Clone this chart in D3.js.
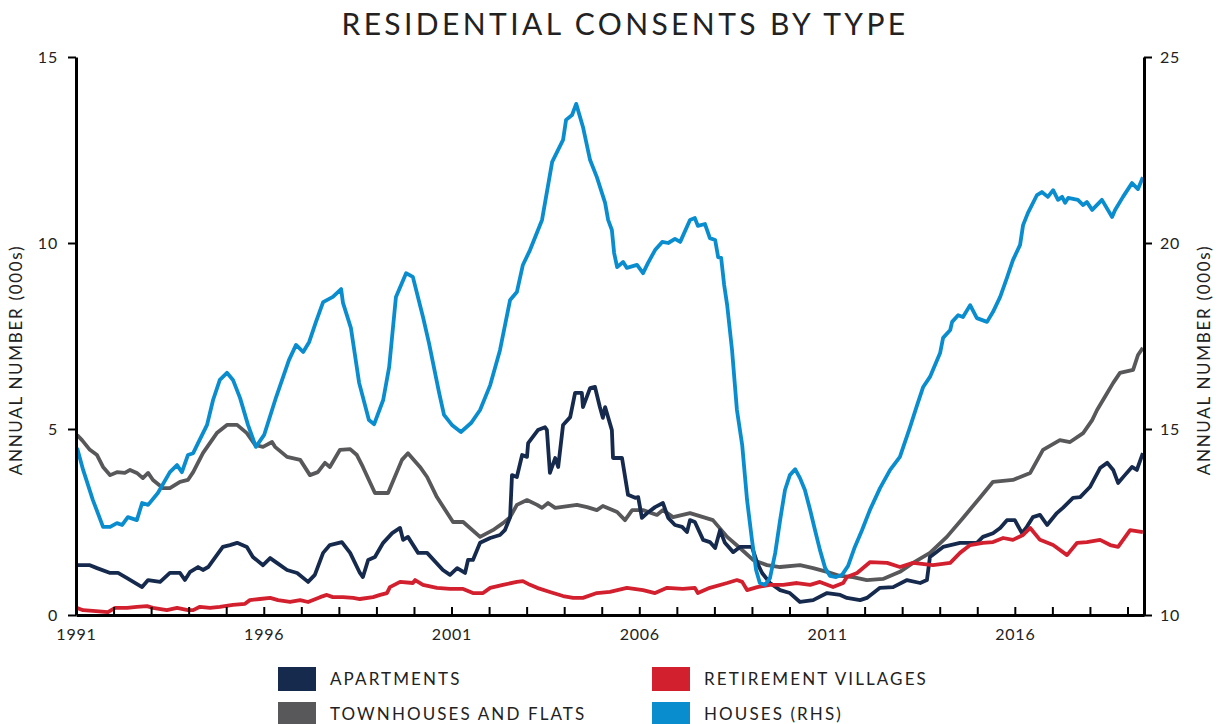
<!DOCTYPE html>
<html>
<head>
<meta charset="utf-8">
<script src="https://cdn.jsdelivr.net/npm/d3@7"></script>
<style>
  body { margin: 0; background: #fff; }
  svg text { font-family: Lato, "Open Sans", sans-serif; fill: #222; }
</style>
</head>
<body>
<svg id="chart"></svg>
<script>
const width = 1219
const height = 724

// [year, value] readings, left axis (000s)
const apartments = [[1991.03,1.34],[1991.37,1.34],[1991.56,1.26],[1991.91,1.13],[1992.12,1.13],[1992.36,0.99],[1992.76,0.75],[1992.92,0.94],[1993.24,0.89],[1993.5,1.13],[1993.77,1.13],[1993.9,0.94],[1994.04,1.16],[1994.25,1.29],[1994.38,1.21],[1994.52,1.29],[1994.75,1.61],[1994.91,1.83],[1995.1,1.88],[1995.29,1.94],[1995.55,1.83],[1995.71,1.56],[1995.98,1.34],[1996.17,1.53],[1996.35,1.4],[1996.62,1.21],[1996.89,1.13],[1997.18,0.89],[1997.36,1.08],[1997.58,1.67],[1997.76,1.88],[1998.08,1.96],[1998.3,1.67],[1998.56,1.13],[1998.64,1.02],[1998.78,1.48],[1998.96,1.56],[1999.18,1.94],[1999.42,2.2],[1999.63,2.34],[1999.71,2.02],[1999.84,2.1],[2000.11,1.67],[2000.35,1.67],[2000.77,1.21],[2000.96,1.08],[2001.15,1.26],[2001.36,1.13],[2001.44,1.48],[2001.57,1.48],[2001.76,1.94],[2002.03,2.07],[2002.29,2.15],[2002.42,2.28],[2002.56,2.63],[2002.61,3.76],[2002.74,3.71],[2002.88,4.3],[2003.01,4.25],[2003.04,4.62],[2003.3,4.97],[2003.49,5.05],[2003.54,4.97],[2003.62,3.82],[2003.76,4.22],[2003.84,3.98],[2003.97,5.11],[2004.16,5.32],[2004.29,5.97],[2004.47,5.97],[2004.5,5.59],[2004.69,6.1],[2004.82,6.13],[2004.95,5.59],[2005.03,5.3],[2005.09,5.59],[2005.27,4.97],[2005.3,4.22],[2005.54,4.22],[2005.7,3.23],[2005.89,3.15],[2005.97,3.17],[2006.07,2.61],[2006.21,2.74],[2006.42,2.9],[2006.63,3.01],[2006.77,2.61],[2006.95,2.42],[2007.14,2.37],[2007.27,2.23],[2007.35,2.55],[2007.48,2.5],[2007.7,2.02],[2007.88,1.96],[2008.02,1.8],[2008.15,2.28],[2008.28,1.94],[2008.5,1.69],[2008.68,1.83],[2009.0,1.83],[2009.14,1.4],[2009.27,1.13],[2009.48,0.86],[2009.75,0.67],[2010.01,0.59],[2010.28,0.35],[2010.63,0.4],[2011.0,0.59],[2011.35,0.54],[2011.53,0.46],[2011.88,0.4],[2012.06,0.46],[2012.41,0.73],[2012.76,0.75],[2013.13,0.94],[2013.48,0.86],[2013.66,0.94],[2013.74,1.56],[2014.09,1.83],[2014.54,1.94],[2014.99,1.94],[2015.15,2.1],[2015.42,2.2],[2015.61,2.34],[2015.79,2.55],[2016.0,2.55],[2016.19,2.2],[2016.32,2.37],[2016.48,2.63],[2016.67,2.69],[2016.86,2.42],[2017.12,2.74],[2017.28,2.88],[2017.55,3.15],[2017.74,3.17],[2018.0,3.44],[2018.27,3.95],[2018.46,4.09],[2018.62,3.9],[2018.75,3.55],[2018.93,3.76],[2019.12,3.98],[2019.25,3.9],[2019.41,4.35]]

const townhouses = [[1991.03,4.84],[1991.16,4.7],[1991.37,4.44],[1991.56,4.3],[1991.72,3.98],[1991.91,3.76],[1992.09,3.84],[1992.3,3.82],[1992.44,3.9],[1992.62,3.82],[1992.78,3.68],[1992.92,3.82],[1993.05,3.63],[1993.32,3.41],[1993.5,3.41],[1993.77,3.58],[1993.98,3.63],[1994.12,3.84],[1994.38,4.35],[1994.75,4.89],[1995.02,5.11],[1995.29,5.11],[1995.55,4.89],[1995.77,4.57],[1995.98,4.52],[1996.22,4.65],[1996.3,4.52],[1996.62,4.25],[1996.97,4.17],[1997.23,3.76],[1997.44,3.84],[1997.63,4.09],[1997.76,3.98],[1998.03,4.44],[1998.3,4.46],[1998.48,4.3],[1998.64,3.98],[1998.96,3.28],[1999.31,3.28],[1999.68,4.17],[1999.84,4.35],[2000.16,3.98],[2000.35,3.71],[2000.61,3.17],[2001.04,2.5],[2001.31,2.5],[2001.76,2.1],[2002.1,2.28],[2002.37,2.47],[2002.56,2.63],[2002.74,2.96],[2003.01,3.09],[2003.28,2.96],[2003.41,2.88],[2003.57,3.01],[2003.76,2.88],[2004.34,2.96],[2004.61,2.9],[2004.87,2.82],[2005.03,2.93],[2005.41,2.77],[2005.62,2.55],[2005.81,2.82],[2006.1,2.82],[2006.47,2.69],[2006.63,2.82],[2006.9,2.63],[2007.35,2.74],[2007.7,2.63],[2007.96,2.55],[2008.34,2.1],[2008.68,1.8],[2009.03,1.48],[2009.4,1.34],[2009.75,1.29],[2010.28,1.34],[2010.63,1.26],[2011.0,1.16],[2011.35,1.05],[2011.69,1.02],[2012.06,0.94],[2012.49,0.97],[2012.94,1.16],[2013.29,1.4],[2013.74,1.67],[2014.19,2.1],[2014.62,2.61],[2015.07,3.15],[2015.42,3.58],[2015.95,3.63],[2016.41,3.82],[2016.75,4.44],[2017.2,4.7],[2017.47,4.65],[2017.82,4.89],[2018.06,5.24],[2018.19,5.51],[2018.46,5.97],[2018.62,6.24],[2018.8,6.51],[2019.15,6.59],[2019.28,6.99],[2019.41,7.18]]

const retirement = [[1991.03,0.19],[1991.19,0.13],[1991.45,0.11],[1991.85,0.08],[1992.04,0.19],[1992.36,0.19],[1992.62,0.22],[1992.89,0.24],[1993.05,0.19],[1993.42,0.13],[1993.69,0.19],[1993.98,0.13],[1994.12,0.13],[1994.3,0.22],[1994.57,0.19],[1994.83,0.22],[1995.18,0.27],[1995.5,0.3],[1995.63,0.4],[1995.9,0.43],[1996.17,0.46],[1996.38,0.4],[1996.7,0.35],[1996.97,0.4],[1997.18,0.35],[1997.5,0.48],[1997.68,0.54],[1997.84,0.48],[1998.11,0.48],[1998.38,0.46],[1998.56,0.43],[1998.91,0.48],[1999.1,0.54],[1999.28,0.59],[1999.36,0.75],[1999.63,0.89],[1999.97,0.86],[2000.03,0.94],[2000.24,0.81],[2000.61,0.73],[2000.96,0.7],[2001.31,0.7],[2001.57,0.59],[2001.84,0.59],[2002.03,0.73],[2002.37,0.81],[2002.74,0.89],[2002.9,0.91],[2003.09,0.81],[2003.28,0.73],[2003.62,0.62],[2003.97,0.51],[2004.24,0.46],[2004.5,0.46],[2004.87,0.59],[2005.22,0.62],[2005.67,0.73],[2006.1,0.67],[2006.42,0.59],[2006.74,0.73],[2007.16,0.7],[2007.48,0.73],[2007.56,0.59],[2007.88,0.73],[2008.34,0.86],[2008.6,0.94],[2008.74,0.89],[2008.87,0.67],[2009.14,0.75],[2009.48,0.81],[2009.83,0.81],[2010.2,0.86],[2010.55,0.81],[2010.81,0.89],[2011.16,0.75],[2011.43,0.86],[2011.53,1.02],[2011.8,1.13],[2012.14,1.42],[2012.6,1.4],[2012.94,1.29],[2013.29,1.4],[2013.82,1.34],[2014.28,1.4],[2014.54,1.67],[2014.81,1.88],[2015.15,1.94],[2015.42,1.96],[2015.69,2.07],[2015.95,2.02],[2016.22,2.15],[2016.41,2.34],[2016.67,2.02],[2017.02,1.88],[2017.39,1.61],[2017.66,1.94],[2017.92,1.96],[2018.27,2.02],[2018.54,1.88],[2018.75,1.83],[2019.07,2.28],[2019.41,2.23]]

// right axis (000s)
const houses = [[1991.03,14.49],[1991.19,13.9],[1991.45,13.09],[1991.72,12.37],[1991.91,12.37],[1992.09,12.47],[1992.23,12.42],[1992.38,12.63],[1992.62,12.55],[1992.76,13.01],[1992.92,12.96],[1993.18,13.28],[1993.5,13.84],[1993.69,14.03],[1993.82,13.84],[1993.98,14.3],[1994.12,14.35],[1994.25,14.62],[1994.49,15.11],[1994.65,15.78],[1994.83,16.32],[1995.02,16.51],[1995.18,16.32],[1995.37,15.83],[1995.58,15.11],[1995.79,14.52],[1996.01,14.84],[1996.33,15.86],[1996.67,16.85],[1996.86,17.26],[1997.05,17.07],[1997.21,17.34],[1997.39,17.88],[1997.58,18.41],[1997.84,18.55],[1998.06,18.76],[1998.11,18.39],[1998.32,17.72],[1998.54,16.24],[1998.8,15.24],[1998.94,15.13],[1999.18,15.78],[1999.34,16.67],[1999.52,18.55],[1999.79,19.19],[1999.97,19.09],[2000.24,18.01],[2000.4,17.31],[2000.67,15.97],[2000.8,15.38],[2001.01,15.11],[2001.25,14.92],[2001.52,15.16],[2001.76,15.51],[2002.03,16.18],[2002.29,17.12],[2002.56,18.47],[2002.74,18.68],[2002.9,19.41],[2003.09,19.81],[2003.41,20.62],[2003.68,22.18],[2003.97,22.77],[2004.05,23.31],[2004.21,23.44],[2004.32,23.74],[2004.5,23.12],[2004.69,22.23],[2004.87,21.77],[2005.09,21.08],[2005.17,20.62],[2005.27,20.35],[2005.33,19.73],[2005.41,19.35],[2005.57,19.49],[2005.67,19.33],[2005.94,19.41],[2006.1,19.19],[2006.23,19.46],[2006.42,19.81],[2006.61,20.03],[2006.77,20.0],[2006.95,20.11],[2007.09,20.03],[2007.35,20.62],[2007.48,20.67],[2007.56,20.46],[2007.75,20.51],[2007.88,20.13],[2008.02,20.08],[2008.1,19.62],[2008.18,19.6],[2008.26,18.87],[2008.34,18.33],[2008.47,17.12],[2008.6,15.51],[2008.74,14.57],[2008.87,13.09],[2009.0,12.02],[2009.11,11.21],[2009.21,10.86],[2009.35,10.81],[2009.48,10.99],[2009.62,11.67],[2009.75,12.55],[2009.88,13.36],[2010.01,13.76],[2010.15,13.92],[2010.28,13.68],[2010.41,13.36],[2010.55,12.82],[2010.68,12.28],[2010.81,11.75],[2010.95,11.26],[2011.08,11.05],[2011.24,11.02],[2011.4,11.08],[2011.56,11.32],[2011.74,11.83],[2011.93,12.28],[2012.14,12.82],[2012.41,13.41],[2012.68,13.9],[2012.94,14.25],[2013.21,15.05],[2013.4,15.65],[2013.56,16.13],[2013.74,16.4],[2014.01,17.04],[2014.09,17.45],[2014.28,17.66],[2014.33,17.88],[2014.49,18.06],[2014.62,18.01],[2014.81,18.33],[2014.99,17.98],[2015.26,17.88],[2015.42,18.15],[2015.61,18.55],[2015.79,19.06],[2015.95,19.54],[2016.14,19.95],[2016.22,20.48],[2016.35,20.81],[2016.59,21.29],[2016.72,21.37],[2016.88,21.24],[2017.02,21.42],[2017.15,21.16],[2017.26,21.24],[2017.34,21.08],[2017.42,21.21],[2017.68,21.16],[2017.82,21.02],[2017.92,21.1],[2018.06,20.89],[2018.32,21.16],[2018.59,20.7],[2018.67,20.89],[2018.88,21.24],[2019.12,21.61],[2019.28,21.45],[2019.41,21.77]]

const leftTicks = [0, 5, 10, 15]
const rightTicks = [10, 15, 20, 25]
const yearLabels = [1991, 1996, 2001, 2006, 2011, 2016]

const series = [
  { name: "TOWNHOUSES AND FLATS", data: townhouses, color: "#58585a", axis: "left" },
  { name: "APARTMENTS", data: apartments, color: "#162a4e", axis: "left" },
  { name: "RETIREMENT VILLAGES", data: retirement, color: "#d2202f", axis: "left" },
  { name: "HOUSES (RHS)", data: houses, color: "#0a8dce", axis: "right" }
]

const margin = { top: 57, right: 75, bottom: 109, left: 76 }
const plotRight = width - margin.right
const plotBottom = height - margin.bottom

const svg = d3.select("#chart")
            .attr("width", width)
            .attr("height", height);

const x = d3.scaleLinear().domain([1991, 2019.44]).range([margin.left, plotRight])
const yLeft = d3.scaleLinear().domain([0, 15]).range([plotBottom, margin.top])
const yRight = d3.scaleLinear().domain([10, 25]).range([plotBottom, margin.top])

// title
svg.append("text")
   .attr("x", 625)
   .attr("y", 35)
   .attr("text-anchor", "middle")
   .style("font-size", "30px")
   .style("letter-spacing", "3.4px")
   .text("RESIDENTIAL CONSENTS BY TYPE");

// lines
series.forEach(s => {
    const yScale = s.axis === "left" ? yLeft : yRight
    const line = d3.line().x(d => x(d[0])).y(d => yScale(d[1]))
    svg.append("path")
       .datum(s.data)
       .attr("d", line)
       .attr("fill", "none")
       .attr("stroke", s.color)
       .attr("stroke-width", 3.8)
       .attr("stroke-linejoin", "round");
})

// axes
const styleAxis = g => {
    g.selectAll(".domain").attr("stroke", "#000").attr("stroke-width", 3)
    g.selectAll(".tick line").attr("stroke", "#000").attr("stroke-width", 2)
    g.selectAll(".tick text").style("font-size", "16px").style("letter-spacing", "0.8px").attr("fill", "#222")
}

svg.append("g")
   .attr("transform", `translate(${margin.left},0)`)
   .call(d3.axisLeft(yLeft).tickValues(leftTicks).tickSize(8).tickSizeOuter(0).tickPadding(10))
   .call(styleAxis);

svg.append("g")
   .attr("transform", `translate(${plotRight},0)`)
   .call(d3.axisRight(yRight).tickValues(rightTicks).tickSize(8).tickSizeOuter(0).tickPadding(8))
   .call(styleAxis);

svg.append("g")
   .attr("transform", `translate(0,${plotBottom})`)
   .call(d3.axisBottom(x).tickValues(d3.range(1991, 2020)).tickSize(-8).tickSizeOuter(0)
            .tickFormat(d => yearLabels.includes(d) ? d : "").tickPadding(14))
   .call(styleAxis);

// axis titles
svg.append("text")
   .attr("transform", `translate(22,${(margin.top + plotBottom) / 2 + 24}) rotate(-90)`)
   .attr("text-anchor", "middle")
   .style("font-size", "17px")
   .style("letter-spacing", "1.7px")
   .text("ANNUAL NUMBER (000s)");

svg.append("text")
   .attr("transform", `translate(1210,${(margin.top + plotBottom) / 2 + 24}) rotate(-90)`)
   .attr("text-anchor", "middle")
   .style("font-size", "17px")
   .style("letter-spacing", "1.7px")
   .text("ANNUAL NUMBER (000s)");

// legend
const legendOrder = [series[1], series[2], series[0], series[3]]
const legend = svg.append("g")
legendOrder.forEach((s, i) => {
    const lx = i % 2 === 0 ? 278 : 652
    const ly = i < 2 ? 667 : 702
    legend.append("rect")
          .attr("x", lx).attr("y", ly)
          .attr("width", 38).attr("height", 24)
          .attr("fill", s.color);
    legend.append("text")
          .attr("x", lx + 52).attr("y", ly + 18)
          .style("font-size", "17px")
          .style("letter-spacing", "2.1px")
          .text(s.name);
})
</script>
</body>
</html>
